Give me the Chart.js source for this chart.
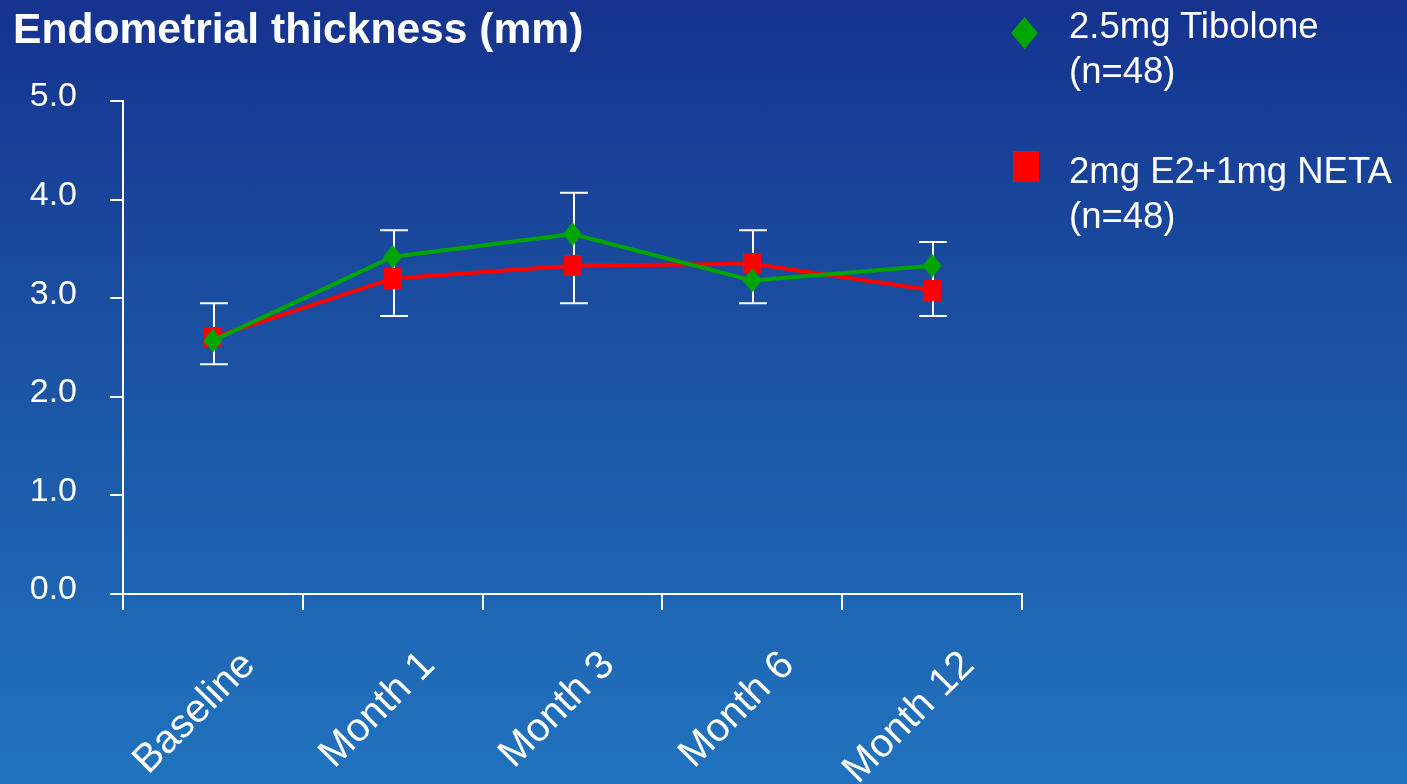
<!DOCTYPE html>
<html><head><meta charset="utf-8">
<script src="https://cdn.jsdelivr.net/npm/chart.js@4"></script>
<style>
html,body{margin:0;padding:0;width:1407px;height:784px;overflow:hidden;}
body{background:linear-gradient(to bottom,#15338f 0%,#1b52a3 45%,#2173bf 100%);font-family:"Liberation Sans",Arial,sans-serif;color:#fff;position:relative;}
#wrap{position:absolute;left:0;top:0;width:1407px;height:784px;}
.title{position:absolute;left:13px;top:7px;font-weight:bold;font-size:42.6px;line-height:43px;white-space:nowrap;}
.leg{position:absolute;left:1069px;font-size:36.5px;line-height:45px;white-space:nowrap;}
.dia{position:absolute;left:1011px;top:17px;width:27px;height:32px;background:#00a500;clip-path:polygon(50% 0,100% 50%,50% 100%,0 50%);}
.sq{position:absolute;left:1013px;top:151px;width:26px;height:31px;background:#f00;}
</style></head>
<body>
<div id="wrap"><canvas id="c" width="1407" height="784"></canvas></div>
<div class="title">Endometrial thickness (mm)</div>
<div class="dia"></div>
<div class="leg" style="top:3px">2.5mg Tibolone<br>(n=48)</div>
<div class="sq"></div>
<div class="leg" style="top:148px">2mg E2+1mg NETA<br>(n=48)</div>
<script>
const categories = ['Baseline','Month 1','Month 3','Month 6','Month 12'];
const tibolone = [2.57, 3.42, 3.65, 3.18, 3.33];
const e2neta   = [2.60, 3.20, 3.33, 3.35, 3.08];
const errHigh  = [2.95, 3.69, 4.07, 3.69, 3.57];
const errLow   = [2.33, 2.82, 2.95, 2.95, 2.82];
const yMin = 0, yMax = 5, yStep = 1;

const FONT = '"Liberation Sans", Arial, sans-serif';

function makeDiamond(w,h,color){
  const c=document.createElement('canvas'); c.width=w; c.height=h;
  const g=c.getContext('2d'); g.fillStyle=color; g.beginPath();
  g.moveTo(w/2,0); g.lineTo(w,h/2); g.lineTo(w/2,h); g.lineTo(0,h/2); g.closePath(); g.fill();
  return c;
}
function makeRect(w,h,color){
  const c=document.createElement('canvas'); c.width=w; c.height=h;
  const g=c.getContext('2d'); g.fillStyle=color; g.fillRect(0,0,w,h); return c;
}
const greenPt = makeDiamond(19,24,'#00a500');
const redPt = makeRect(18,21,'#f00');

const errorBars = {
  id:'errorBars',
  beforeDatasetsDraw(chart){
    const {ctx, scales:{x,y}} = chart;
    ctx.save(); ctx.strokeStyle='#fff'; ctx.lineWidth=2;
    categories.forEach((c,i)=>{
      const px = Math.round(x.getPixelForValue(i))+1;
      const t = y.getPixelForValue(errHigh[i]);
      const b = y.getPixelForValue(errLow[i]);
      ctx.beginPath();
      ctx.moveTo(px,t); ctx.lineTo(px,b);
      ctx.moveTo(px-14,t); ctx.lineTo(px+14,t);
      ctx.moveTo(px-14,b); ctx.lineTo(px+14,b);
      ctx.stroke();
    });
    ctx.restore();
  }
};

new Chart(document.getElementById('c'), {
  type:'line',
  data:{
    labels: categories,
    datasets:[
      {label:'2.5mg Tibolone (n=48)', data: tibolone, borderColor:'#00a500', borderWidth:4, pointStyle:greenPt, tension:0},
      {label:'2mg E2+1mg NETA (n=48)', data: e2neta, borderColor:'#f00', borderWidth:4, pointStyle:redPt, tension:0}
    ]
  },
  options:{
    responsive:false, animation:false,
    layout:{padding:{left:0,right:385,top:101,bottom:0}},
    plugins:{legend:{display:false}, tooltip:{enabled:false}, title:{display:false}},
    scales:{
      x:{
        type:'category', offset:true,
        grid:{offset:true, drawOnChartArea:false, drawTicks:true, tickLength:16, color:'#fff', lineWidth:2},
        border:{color:'#fff', width:2},
        ticks:{color:'#fff', font:{size:40, family:FONT}, minRotation:45, maxRotation:45, autoSkip:false, padding:32, labelOffset:36},
        afterFit(s){ s.height = 190; }
      },
      y:{
        min:yMin, max:yMax,
        ticks:{stepSize:yStep, color:'#fff', font:{size:34, family:FONT}, padding:33, labelOffset:-4, callback:v=>v.toFixed(1)},
        grid:{drawOnChartArea:false, drawTicks:true, tickLength:13, color:'#fff', lineWidth:2},
        border:{color:'#fff', width:2},
        afterFit(s){ s.width = 123; }
      }
    }
  },
  plugins:[errorBars]
});
</script>
</body></html>
